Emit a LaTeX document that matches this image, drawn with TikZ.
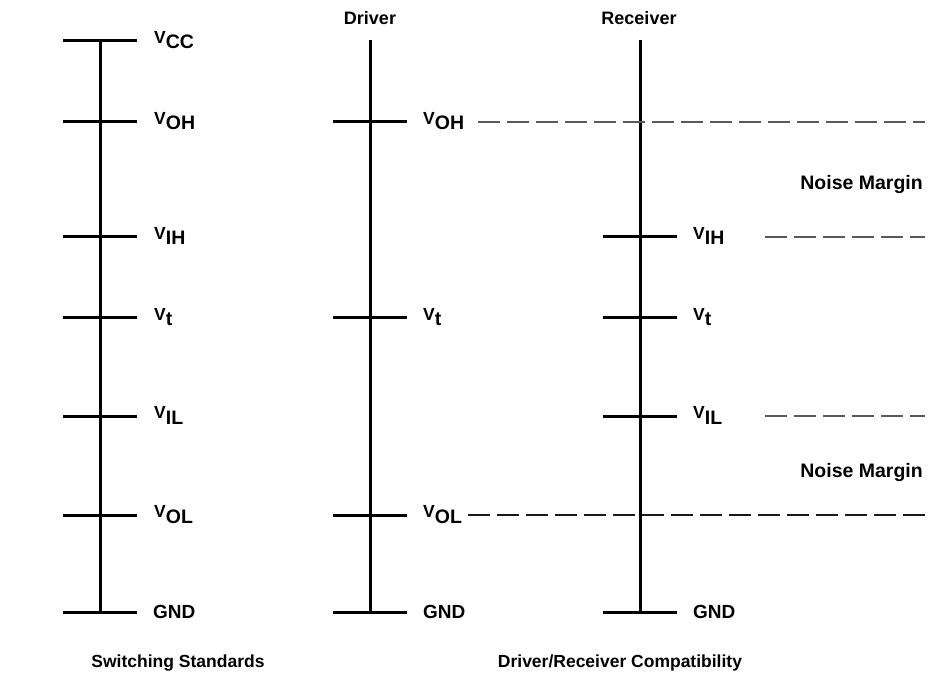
\documentclass[tikz,border=0pt]{standalone}
\usepackage{fontspec}
\setmainfont{Liberation Sans}
\newcommand{\lvl}[1]{{\fontsize{17.5}{20}\selectfont V}\raisebox{-5.5pt}{\fontsize{19.5}{22}\selectfont #1}}
\begin{document}
\begin{tikzpicture}[x=1pt,y=-1pt,
  axis/.style={line width=3pt},
  tick/.style={line width=3pt},
  lab/.style={anchor=base west,inner sep=0pt,font=\bfseries},
  gnd/.style={anchor=west,inner sep=0pt,font=\fontsize{19}{22}\selectfont\bfseries},
  ttl/.style={inner sep=0pt,font=\fontsize{18}{21}\selectfont\bfseries},
  nm/.style={inner sep=0pt,anchor=east,font=\fontsize{19.5}{22}\selectfont\bfseries},
  btm/.style={inner sep=0pt,font=\fontsize{17.5}{21}\selectfont\bfseries},
  dashA/.style={line width=1.2pt,draw=black!65,dash pattern=on 22pt off 7pt},
  dashB/.style={line width=1.2pt,draw=black!90,dash pattern=on 22pt off 7pt}]
\useasboundingbox (0,0) rectangle (932,676);
% axes
\foreach \n/\x in {a/100,b/370,c/640}{
  \coordinate (\n top) at (\x,40);
  \coordinate (\n bot) at (\x,612);
  \draw[axis] (\n top) -- (\n bot);
}
% column 1
\foreach \nm/\y/\t in {cc/41/CC,oh/122/OH,ih/237/IH,t/318/t,il/416/IL,ol/515/OL}{
  \coordinate (a\nm L) at (63,\y);
  \coordinate (a\nm R) at (137,\y);
  \draw[tick] (a\nm L) -- (a\nm R);
  \node[lab] (la\nm) at (154,\y+2.5) {\lvl{\t}};
}
% column 2
\foreach \nm/\y/\t in {oh/122/OH,t/318/t,ol/515/OL}{
  \coordinate (b\nm L) at (333,\y);
  \coordinate (b\nm R) at (407,\y);
  \draw[tick] (b\nm L) -- (b\nm R);
  \node[lab] (lb\nm) at (423,\y+2.5) {\lvl{\t}};
}
% column 3
\foreach \nm/\y/\t in {ih/237/IH,t/318/t,il/416/IL}{
  \coordinate (c\nm L) at (603,\y);
  \coordinate (c\nm R) at (677,\y);
  \draw[tick] (c\nm L) -- (c\nm R);
  \node[lab] (lc\nm) at (693,\y+2.5) {\lvl{\t}};
}
% GND ticks
\foreach \n/\x in {a/100,b/370,c/640}{
  \coordinate (\n gL) at (\x-37,612);
  \coordinate (\n gR) at (\x+37,612);
  \draw[tick] (\n gL) -- (\n gR);
  \node[gnd] (\n gnd) at (\x+53,612) {GND};
}
% titles
\node[ttl] (tdrv) at (370,18) {Driver};
\node[ttl] (trcv) at (639,18) {Receiver};
\node[nm] (nm1) at (923,185) {Noise Margin};
\node[nm] (nm2) at (923,473) {Noise Margin};
\node[btm] (sw) at (178,663) {Switching Standards};
\node[btm] (drc) at (620,663) {Driver/Receiver Compatibility};
% dashed lines
\coordinate (dohS) at (478,122);
\coordinate (dohE) at (925,122);
\coordinate (dolE) at (925,515);
\coordinate (dihS) at (765,237);
\coordinate (dihE) at (925,237);
\coordinate (dilS) at (765,416);
\coordinate (dilE) at (925,416);
\draw[dashA] (dohS) -- (dohE);
\draw[dashA] (dihS) -- (dihE);
\draw[dashA] (dilS) -- (dilE);
\draw[dashB] (dolE) -- (lbol.east |- dolE);
\end{tikzpicture}
\end{document}
